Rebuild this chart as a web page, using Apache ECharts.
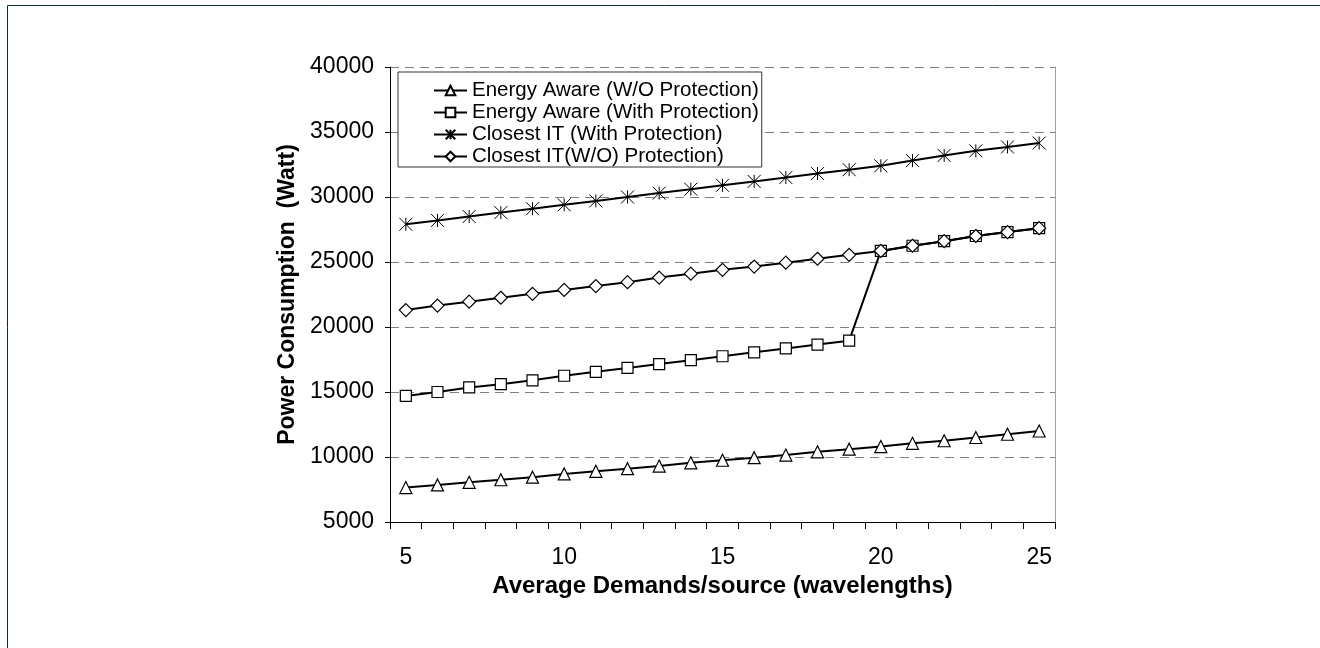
<!DOCTYPE html>
<html>
<head>
<meta charset="utf-8">
<script src="https://cdn.jsdelivr.net/npm/echarts@6/dist/echarts.min.js"></script>
<style>
html,body{margin:0;padding:0;background:#fff;}
#chart{width:1320px;height:648px;}
</style>
</head>
<body>
<div id="chart"></div>
<script>
var categories = ['5','6','7','8','9','10','11','12','13','14','15','16','17','18','19','20','21','22','23','24','25'];
var energyAwareNoProt = [7650, 7850, 8050, 8250, 8450, 8700, 8900, 9100, 9300, 9550, 9750, 9950, 10150, 10400, 10600, 10800, 11050, 11250, 11500, 11750, 12000];
var energyAwareProt = [14700, 15000, 15350, 15600, 15900, 16250, 16550, 16850, 17150, 17450, 17750, 18050, 18350, 18650, 18950, 25850, 26250, 26600, 27000, 27300, 27600];
var closestProt = [27900, 28200, 28500, 28800, 29100, 29400, 29700, 30000, 30300, 30600, 30900, 31200, 31500, 31800, 32100, 32400, 32800, 33200, 33550, 33850, 34150];
var closestNoProt = [21300, 21650, 21950, 22250, 22550, 22850, 23150, 23450, 23800, 24100, 24400, 24650, 24950, 25250, 25550, 25850, 26250, 26600, 27000, 27300, 27600];
var seriesNames = ['Energy Aware (W/O Protection)', 'Energy Aware (With Protection)', 'Closest IT (With Protection)', 'Closest IT(W/O) Protection)'];
var yTicks = {min: 5000, max: 40000, interval: 5000};

var FONT = '"Liberation Sans", Arial, sans-serif';
var chart = echarts.init(document.getElementById('chart'), null, {renderer: 'canvas'});

function mk(name, data, symbol, size, bw) {
  return {
    name: name, type: 'line', data: data,
    symbol: symbol, symbolSize: size, showSymbol: true,
    lineStyle: {color: '#000', width: 2},
    itemStyle: {color: '#fff', borderColor: '#000', borderWidth: bw},
    emphasis: {disabled: true},
    animation: false
  };
}

chart.setOption({
  animation: false,
  backgroundColor: '#fff',
  graphic: [{
    type: 'rect', silent: true, z: -10,
    shape: {x: 7.5, y: 5.5, width: 1400, height: 800},
    style: {fill: 'none', stroke: '#0b2d37', lineWidth: 1}
  }],
  grid: {left: 390, top: 67, right: 265, bottom: 126, containLabel: false},
  legend: {
    orient: 'vertical', left: 398, top: 72,
    backgroundColor: '#fff', borderColor: '#333', borderWidth: 1,
    padding: [8, 3, 0, 35],
    itemWidth: 33, itemHeight: 12, itemGap: 1,
    textStyle: {fontFamily: FONT, fontSize: 20.5, lineHeight: 19.5, color: '#000'},
    data: seriesNames
  },
  xAxis: {
    type: 'category', data: categories, boundaryGap: true,
    name: 'Average Demands/source (wavelengths)', nameLocation: 'middle', nameGap: 44,
    nameTextStyle: {fontFamily: FONT, fontSize: 24, fontWeight: 'bold', color: '#000'},
    axisLine: {lineStyle: {color: '#000', width: 1}},
    axisTick: {show: true, interval: 0, length: 7, alignWithLabel: false, lineStyle: {color: '#000'}},
    axisLabel: {interval: 4, margin: 24, fontFamily: FONT, fontSize: 23, color: '#000'},
    splitLine: {show: false}
  },
  yAxis: [{
    type: 'value', min: yTicks.min, max: yTicks.max, interval: yTicks.interval,
    name: 'Power Consumption  (Watt)', nameLocation: 'middle', nameGap: 89,
    nameTextStyle: {fontFamily: FONT, fontSize: 23, fontWeight: 'bold', color: '#000'},
    axisLine: {show: true, lineStyle: {color: '#000', width: 1}},
    axisTick: {show: true, length: 5, lineStyle: {color: '#000'}},
    axisLabel: {margin: 16, fontFamily: FONT, fontSize: 23, color: '#000', formatter: function (v) { return String(v); }},
    splitLine: {show: true, lineStyle: {color: '#808080', type: [9, 6], width: 1}}
  }, {
    type: 'value', position: 'right', min: yTicks.min, max: yTicks.max, interval: yTicks.interval,
    axisLine: {show: true, lineStyle: {color: '#a0a0a0', width: 1}},
    axisTick: {show: false}, axisLabel: {show: false}, splitLine: {show: false}
  }],
  series: [
    mk(seriesNames[0], energyAwareNoProt, 'triangle', 12, 1.2),
    mk(seriesNames[1], energyAwareProt, 'rect', 11, 1.2),
    mk(seriesNames[2], closestProt, 'path://M0,0L10,10M10,0L0,10M5,0L5,10', 13, 1),
    mk(seriesNames[3], closestNoProt, 'diamond', 13, 1.2)
  ]
});
</script>
</body>
</html>
